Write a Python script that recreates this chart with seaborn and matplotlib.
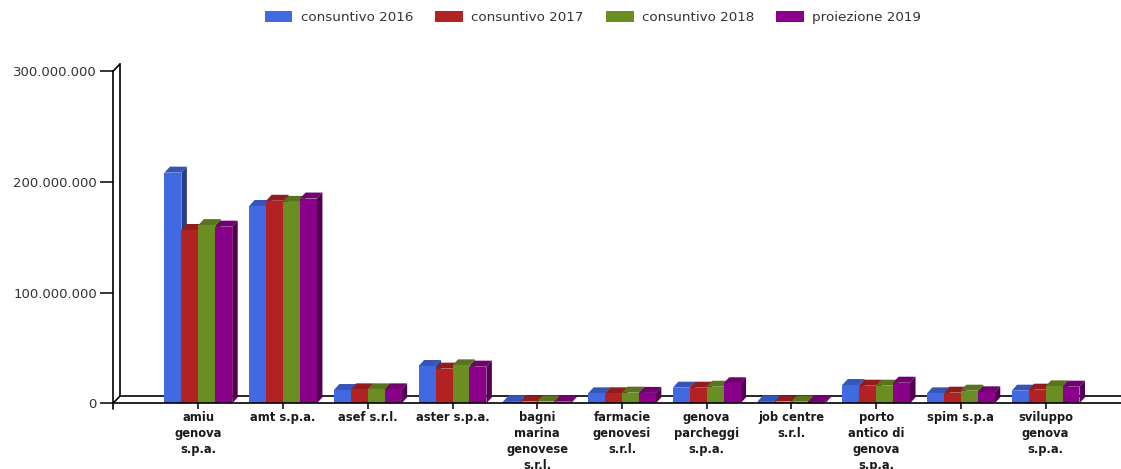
import numpy as np
import pandas as pd
import matplotlib
matplotlib.use("Agg")
import matplotlib.pyplot as plt
import matplotlib.transforms as mtransforms
from matplotlib.patches import Polygon, Patch
from matplotlib.lines import Line2D
from matplotlib.ticker import FuncFormatter
import seaborn as sns

# ---------------- data ----------------
categories = [
    "amiu\ngenova\ns.p.a.",
    "amt s.p.a.",
    "asef s.r.l.",
    "aster s.p.a.",
    "bagni\nmarina\ngenovese\ns.r.l.",
    "farmacie\ngenovesi\ns.r.l.",
    "genova\nparcheggi\ns.p.a.",
    "job centre\ns.r.l.",
    "porto\nantico di\ngenova\ns.p.a.",
    "spim s.p.a",
    "sviluppo\ngenova\ns.p.a.",
]
series = ["consuntivo 2016", "consuntivo 2017", "consuntivo 2018", "proiezione 2019"]
cons_2016 = [208.4e6, 178.3e6, 12.0e6, 33.7e6, 1.8e6, 9.0e6, 14.1e6, 1.7e6, 16.5e6, 9.0e6, 11.4e6]
cons_2017 = [156.6e6, 183.0e6, 12.6e6, 31.3e6, 1.6e6, 9.0e6, 14.1e6, 1.6e6, 15.9e6, 9.6e6, 12.3e6]
cons_2018 = [161.0e6, 182.0e6, 12.6e6, 34.3e6, 1.6e6, 9.6e6, 15.0e6, 1.5e6, 15.9e6, 11.4e6, 15.3e6]
proj_2019 = [159.6e6, 185.0e6, 12.6e6, 33.1e6, 1.5e6, 9.4e6, 18.1e6, 1.7e6, 18.6e6, 9.9e6, 15.0e6]
colors = ["#4169E1", "#B22222", "#6B8E23", "#8B008B"]
y_ticks = [0, 100e6, 200e6, 300e6]

values = [cons_2016, cons_2017, cons_2018, proj_2019]
df = pd.DataFrame({
    "azienda": [c for s in series for c in categories],
    "serie": [s for s in series for c in categories],
    "valore": [v for vals in values for v in vals],
})

sns.set_theme(style="white")
plt.rcParams["font.family"] = ["DejaVu Sans"]

W, H = 1121, 469
fig = plt.figure(figsize=(W / 100, H / 100), dpi=100)
ax = fig.add_axes([113 / W, 65.7 / H, 1008 / W, 332 / H])

sns.barplot(data=df, x="azienda", y="valore", hue="serie", order=categories,
            hue_order=series, palette=colors, saturation=1, width=0.8,
            linewidth=0, errorbar=None, legend=False, ax=ax)

ax.set_xlim(-1.007, 10.89)
ax.set_ylim(0, 300e6)
ax.set_xlabel("")
ax.set_ylabel("")
ax.set_yticks(y_ticks)
ax.yaxis.set_major_formatter(FuncFormatter(lambda v, p: f"{int(round(v)):,}".replace(",", ".")))

for s in ["top", "right"]:
    ax.spines[s].set_visible(False)
for s in ["left", "bottom"]:
    ax.spines[s].set_color("black")
    ax.spines[s].set_linewidth(1.2)
    ax.spines[s].set_zorder(20)

ax.tick_params(axis="y", direction="out", length=9.4, width=1.1, color="black",
               pad=2.2, labelsize=9.5, labelcolor="#333333", left=True)
ax.tick_params(axis="x", direction="out", length=4.3, width=1.1, color="black",
               pad=1.5, labelsize=8.3, labelcolor="#1a1a1a", bottom=True)
for lab in ax.get_xticklabels():
    lab.set_fontweight("bold")
    lab.set_linespacing(1.3)
    lab.set_verticalalignment("top")

# ---------------- 3D-like frame ----------------
dpx, dpy = 7, 7.3
off = mtransforms.ScaledTranslation(dpx / 100, dpy / 100, fig.dpi_scale_trans)
back = ax.transAxes + off
lk = dict(color="black", lw=1.2, clip_on=False)
ax.add_line(Line2D([0, 0], [0, 1], transform=back, zorder=1, **lk))
ax.add_line(Line2D([0, 1], [0, 0], transform=back, zorder=1, **lk))
# diagonals joining front and back
for yy in (0, 1):
    x0d, y0d = ax.transAxes.transform((0, yy))
    pts = ax.transAxes.inverted().transform([(x0d, y0d), (x0d + dpx, y0d + dpy)])
    ax.add_line(Line2D(pts[:, 0], pts[:, 1], transform=ax.transAxes, zorder=19, **lk))
# small extension of the left spine below zero
x0d, y0d = ax.transAxes.transform((0, 0))
pts = ax.transAxes.inverted().transform([(x0d, y0d), (x0d, y0d - 6)])
ax.add_line(Line2D(pts[:, 0], pts[:, 1], transform=ax.transAxes, zorder=19, **lk))

# ---------------- 3D-like bars ----------------
bdx, bdy = 5.5, 6
inv = ax.transData.inverted()
bars = sorted([p for p in ax.patches if p.get_height() > 0], key=lambda p: p.get_x())
for i, p in enumerate(bars):
    base = 2 + i * 0.01
    fc = np.array(p.get_facecolor()[:3])
    x0, w, h = p.get_x(), p.get_width(), p.get_height()
    (ax0, ay0), (ax1, ay1) = ax.transData.transform([(x0, 0), (x0 + w, h)])
    top = inv.transform([(ax0, ay1), (ax1, ay1), (ax1 + bdx, ay1 + bdy), (ax0 + bdx, ay1 + bdy)])
    side = inv.transform([(ax1, ay0), (ax1 + bdx, ay0 + bdy), (ax1 + bdx, ay1 + bdy), (ax1, ay1)])
    ax.add_patch(Polygon(top, closed=True, facecolor=fc * 0.82, edgecolor="none", zorder=base))
    ax.add_patch(Polygon(side, closed=True, facecolor=fc * 0.6, edgecolor="none", zorder=base))
    p.set_zorder(base + 0.005)

# ---------------- legend ----------------
handles = [Patch(facecolor=c, edgecolor="none", label=s) for c, s in zip(colors, series)]
fig.legend(handles=handles, loc="center", bbox_to_anchor=(593 / W, 1 - 17.4 / H),
           ncol=4, frameon=False, fontsize=9.7, handlelength=2.07, handleheight=0.96,
           handletextpad=0.62, columnspacing=1.63, borderpad=0, borderaxespad=0,
           labelcolor="#333333")

fig.savefig("out.png", dpi=100)
